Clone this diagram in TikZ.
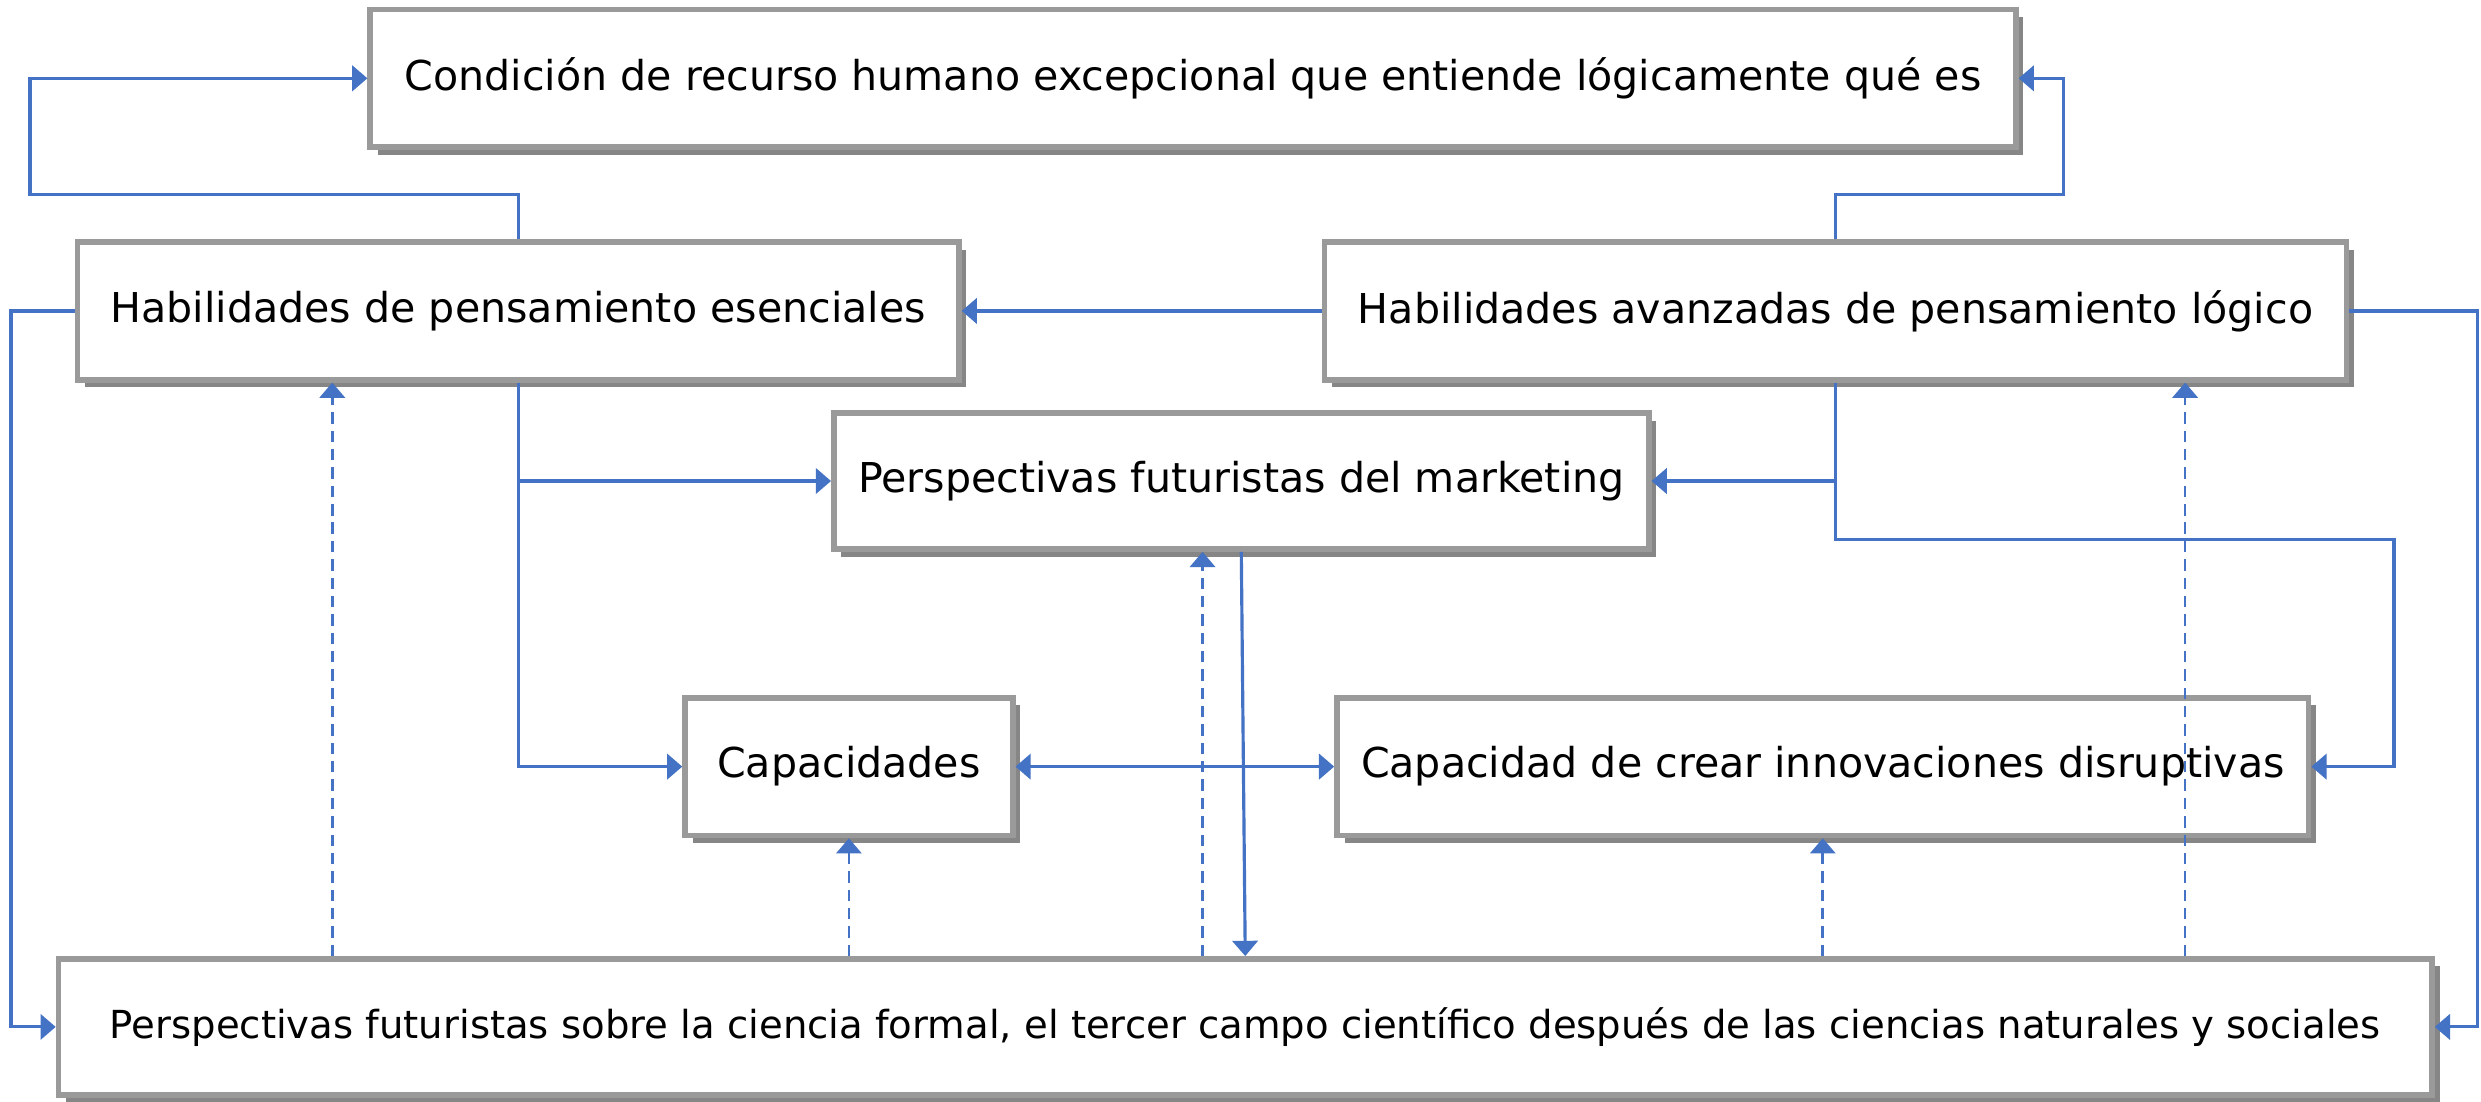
\documentclass[tikz,border=0pt]{standalone}
\usepackage{fontspec}
\setmainfont{DejaVu Sans}
\usetikzlibrary{arrows.meta,shadows}
\definecolor{linkblue}{HTML}{4472C4}
\definecolor{boxgray}{HTML}{9A9A9A}
\definecolor{shadowgray}{HTML}{868686}
\begin{document}
\begin{tikzpicture}[x=0.5pt,y=-0.5pt,
  >={Triangle[length=4.8pt,width=8pt]},
  box/.style={draw=boxgray, line width=1.8pt, fill=white, inner sep=0pt,
    font=\fontsize{13}{15}\selectfont,
    drop shadow={shadow xshift=2.4pt, shadow yshift=-2.4pt, fill=shadowgray, opacity=1}},
  link/.style={draw=linkblue, line width=1pt, ->},
  dlink/.style={link, line width=0.85pt, dash pattern=on 3.6pt off 2.2pt}]
\fill[white] (0,0) rectangle (1568,696);
\useasboundingbox (0,0) rectangle (1568,696);

\node[box, minimum width=520pt, minimum height=43.5pt] (T) at (754,49.5)
  {Condición de recurso humano excepcional que entiende lógicamente qué es};
\node[box, minimum width=278.5pt, minimum height=43.5pt] (H1) at (327.5,196.5)
  {Habilidades de pensamiento esenciales};
\node[box, minimum width=323pt, minimum height=43.5pt] (H2) at (1160,196.5)
  {Habilidades avanzadas de pensamiento lógico};
\node[box, minimum width=257.5pt, minimum height=43pt] (M) at (784.5,304)
  {Perspectivas futuristas del marketing};
\node[box, minimum width=103.5pt, minimum height=43.5pt] (C) at (536.5,484.5)
  {Capacidades};
\node[box, minimum width=307pt, minimum height=43.5pt] (D) at (1152,484.5)
  {Capacidad de crear innovaciones disruptivas};
\node[box, minimum width=750pt, minimum height=43pt, font=\fontsize{12.2}{15}\selectfont] (B) at (787,649)
  {Perspectivas futuristas sobre la ciencia formal, el tercer campo científico después de las ciencias naturales y sociales};

\coordinate (tl) at (19,123);
\coordinate (tr) at (1304,123);
\coordinate (ll) at (7,196.5);
\coordinate (rr) at (1566,196.5);
\coordinate (dr) at (1513,341);
\coordinate (d1) at (210,0);
\coordinate (d2) at (760,0);
\coordinate (d3) at (1381,0);

\draw[link] (H1.north) |- (tl) |- (T.west);
\draw[link] (H2.north) |- (tr) |- (T.east);
\draw[link] (H2.west) -- (H1.east);
\draw[link] (H1.west) -- (ll) |- (B.west);
\draw[link] (H2.east) -- (rr) |- (B.east);
\draw[link] (H1.south) |- (C.west);
\draw[link] (H1.south) |- (M.west);
\draw[link] (H2.south) |- (M.east);
\draw[link] (H2.south) |- (dr) |- (D.east);
\draw[link, <->] (C.east) -- (D.west);
\draw[link] (M.south) -- (B.north);

\draw[dlink] (B.north -| d1) -- (H1.south -| d1);
\draw[dlink] (B.north -| C.south) -- (C.south);
\draw[dlink] (B.north -| d2) -- (M.south -| d2);
\draw[dlink] (B.north -| D.south) -- (D.south);
\draw[dlink] (B.north -| d3) -- (H2.south -| d3);
\end{tikzpicture}
\end{document}
